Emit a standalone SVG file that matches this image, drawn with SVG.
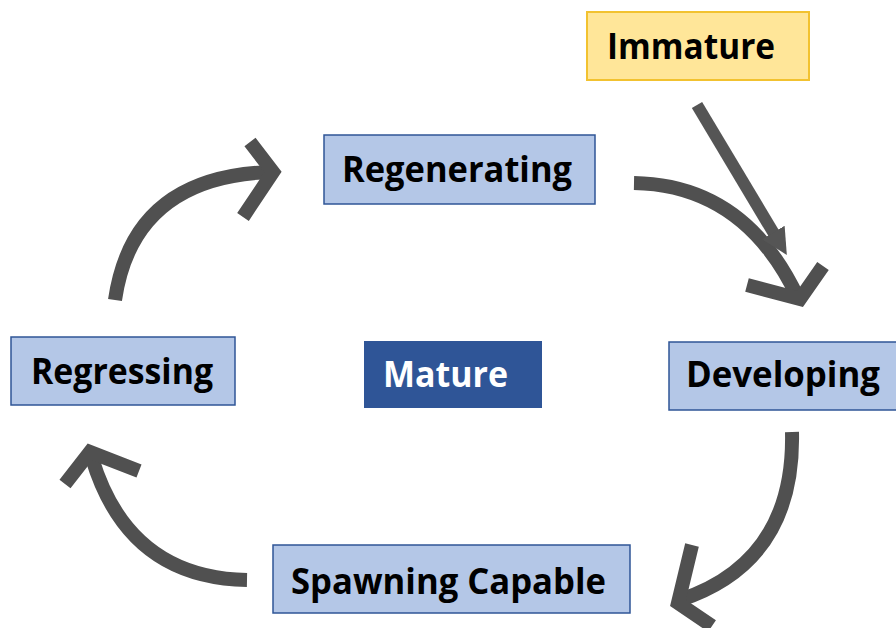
<svg xmlns="http://www.w3.org/2000/svg" width="896" height="628" viewBox="0 0 896 628">
<style>
  .box { fill: #B4C7E7; stroke: #2F5597; stroke-width: 1.5; }
  .lbl { font-family: "Open Sans", "Liberation Sans", sans-serif; font-weight: bold; font-size: 35px; fill: #000; }
  .conn { fill: none; stroke: #505050; stroke-width: 14; stroke-linecap: butt; stroke-linejoin: miter; stroke-miterlimit: 10; }
</style>
<defs>
  <marker id="tri" viewBox="0 0 10 10" refX="2" refY="5" markerWidth="2.2" markerHeight="2.4" orient="auto" markerUnits="strokeWidth">
    <path d="M0,0 L10,5 L0,10 z" fill="#555555"/>
  </marker>
</defs>
<rect width="896" height="628" fill="#ffffff"/>

<g id="connectors">
  <!-- Regressing -> Regenerating -->
  <path class="conn" d="M115,300 Q133,176 272,172"/>
  <polyline class="conn" points="250,142 273,172 243,217"/>
  <!-- Regenerating -> Developing -->
  <path class="conn" d="M634,183 Q745,185 798,298"/>
  <polyline class="conn" points="747,285 800,299 823,266"/>
  <!-- Immature -> Developing -->
  <path d="M697,105 L776,237" fill="none" stroke="#555555" stroke-width="12" marker-end="url(#tri)"/>
  <!-- Developing -> Spawning Capable -->
  <path class="conn" d="M792,432 Q795,562 680,600"/>
  <polyline class="conn" points="692,545 678,603 712,626"/>
  <!-- Spawning Capable -> Regressing -->
  <path class="conn" d="M247,580 Q128,578 92,458"/>
  <polyline class="conn" points="65,484 90,452 139,471"/>
</g>

<g id="immature">
  <rect x="587" y="12" width="222" height="68" fill="#FFE699" stroke="#F2C230" stroke-width="2"/>
  <text class="lbl" x="607" y="59" font-size="37" textLength="168" lengthAdjust="spacingAndGlyphs">Immature</text>
</g>
<g id="regenerating">
  <rect class="box" x="324" y="135" width="271" height="69"/>
  <text class="lbl" x="342" y="182" textLength="230" lengthAdjust="spacingAndGlyphs">Regenerating</text>
</g>
<g id="regressing">
  <rect class="box" x="11" y="337" width="224" height="68"/>
  <text class="lbl" x="31" y="384" textLength="182" lengthAdjust="spacingAndGlyphs">Regressing</text>
</g>
<g id="mature">
  <rect x="364" y="341" width="178" height="67" fill="#2F5597"/>
  <text class="lbl" x="383" y="387" textLength="125" lengthAdjust="spacingAndGlyphs" style="fill:#ffffff">Mature</text>
</g>
<g id="developing">
  <rect class="box" x="669" y="342" width="230" height="68"/>
  <text class="lbl" x="686" y="387" textLength="194" lengthAdjust="spacingAndGlyphs">Developing</text>
</g>
<g id="spawning">
  <rect class="box" x="273" y="545" width="357" height="68"/>
  <text class="lbl" x="291" y="594" textLength="315" lengthAdjust="spacingAndGlyphs">Spawning Capable</text>
</g>
</svg>
